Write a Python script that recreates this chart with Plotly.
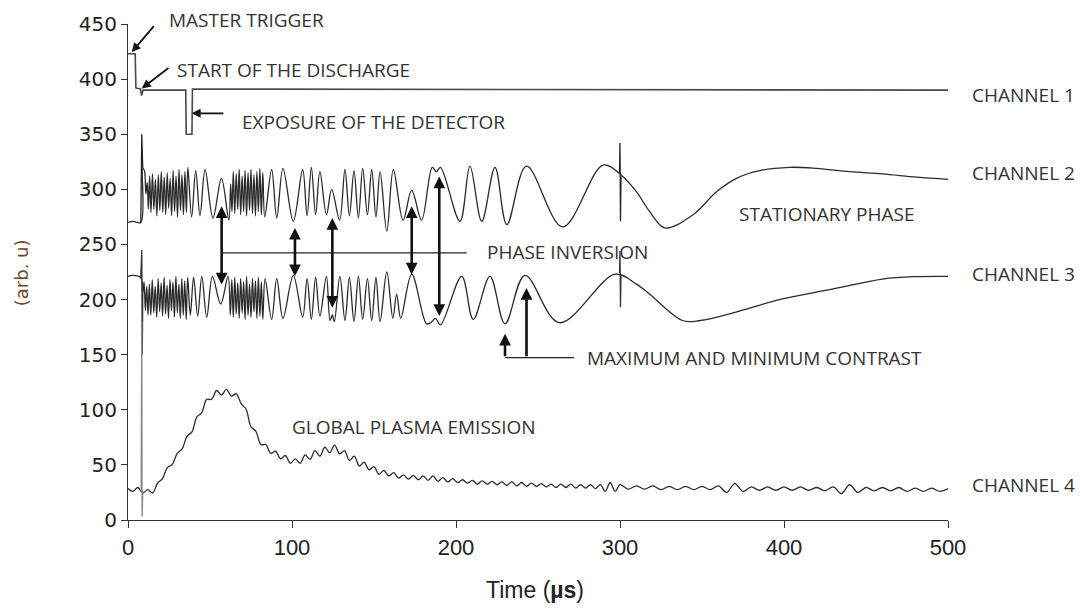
import plotly.graph_objects as go

# ---------------- data ----------------
# Channel 1 : trigger / discharge / detector exposure
ch1_t = [0, 4.4, 4.8, 7.6, 8.3, 9.2, 35.2, 35.5, 39.0, 39.3, 500]
ch1_v = [423, 423, 392, 391, 385, 390, 390, 350, 350, 391, 390]

# Channel 2 : interferometer signal (extrema)
ch2 = [(0, 270), (3, 271), (7.8, 270), (9.0, 319), (10.0, 317), (10.9, 296), (11.7, 306), (12.4, 282),
       (13.2, 312), (14.0, 279), (14.9, 314), (15.8, 282), (16.7, 309), (17.6, 276), (18.5, 313), (19.4, 281),
       (20.3, 316), (21.2, 279), (22.1, 311), (23.0, 277), (23.9, 315), (24.8, 283), (25.7, 310), (26.6, 276),
       (27.5, 317), (28.4, 280), (29.3, 312), (30.2, 275), (31.1, 318), (32.0, 281), (32.9, 313), (33.8, 277),
       (34.7, 316), (35.6, 279), (36.5, 320), (38.8, 275), (41.3, 317), (43.9, 276), (47.0, 318), (51.8, 274),
       (57.0, 310), (61.5, 272), (62.6, 305), (63.4, 280), (64.2, 316), (65.1, 278), (66.0, 314), (66.9, 282),
       (67.8, 318), (68.7, 277), (69.6, 312), (70.5, 280), (71.4, 317), (72.3, 276), (73.2, 315), (74.1, 281),
       (75.0, 318), (75.9, 278), (76.8, 313), (77.7, 276), (78.6, 316), (79.5, 280), (80.4, 319), (81.3, 277),
       (82.2, 315), (83.4, 275), (87.6, 318), (90.7, 274), (94.5, 319), (100.8, 271), (106.5, 318), (109.2, 276),
       (111.8, 320), (114.4, 277), (117.0, 316), (121.0, 277), (124.2, 300), (129.0, 272), (132.3, 318),
       (135.0, 276), (137.8, 317), (140.5, 274), (143.1, 319), (146.0, 277), (148.6, 318), (151.2, 275),
       (153.7, 316), (157.8, 262), (161.8, 318), (167.7, 272), (173.0, 299), (179.0, 272), (185.5, 320),
       (188.0, 316), (190.5, 320), (202.4, 271), (208.5, 321), (215.7, 271), (223.8, 320), (231.0, 268),
       (243.0, 321), (265.0, 266), (289.6, 322), (300.0, 314), (310.0, 298), (318.0, 280), (327.4, 265),
       (344.6, 277), (359.0, 298), (371.0, 310), (385.0, 317), (403.7, 320), (420.0, 319), (440.0, 316),
       (460.0, 314), (481.0, 311), (500.0, 309)]
ch2_t = [p[0] for p in ch2]
ch2_v = [p[1] for p in ch2]

# Channel 3 : second interferometer signal
ch3 = [(0, 221), (3, 222), (7.8, 220), (9.0, 205), (9.8, 216), (10.6, 190), (11.4, 212), (12.2, 186),
       (13.0, 214), (13.9, 186), (14.8, 218), (15.7, 188), (16.6, 212), (17.5, 184), (18.4, 219), (19.3, 189),
       (20.2, 215), (21.1, 185), (22.0, 220), (22.9, 187), (23.8, 213), (24.7, 183), (25.6, 218), (26.5, 190),
       (27.4, 216), (28.3, 184), (29.2, 221), (30.1, 188), (31.0, 214), (31.9, 183), (32.8, 219), (33.7, 186),
       (34.6, 217), (35.5, 182), (36.4, 220), (38.0, 186), (40.0, 220), (42.5, 185), (45.0, 221), (48.0, 184),
       (51.5, 221), (56.5, 196), (61.0, 221), (62.4, 186), (63.3, 218), (64.2, 184), (65.1, 220), (66.0, 187),
       (66.9, 215), (67.8, 183), (68.7, 219), (69.6, 188), (70.5, 216), (71.4, 182), (72.3, 221), (73.2, 186),
       (74.1, 214), (75.0, 184), (75.9, 219), (76.8, 189), (77.7, 217), (78.6, 183), (79.5, 220), (80.4, 185),
       (81.3, 216), (82.2, 182), (83.6, 219), (87.6, 182), (90.7, 219), (94.5, 183), (100.8, 222), (106.5, 184),
       (109.2, 219), (111.8, 182), (114.4, 220), (117.0, 185), (121.0, 221), (123.2, 181), (124.6, 186),
       (125.8, 180), (129.2, 221), (132.3, 181), (135.0, 220), (137.8, 180), (140.5, 221), (143.1, 182),
       (146.0, 219), (148.6, 181), (151.2, 220), (153.7, 180), (157.8, 225), (161.5, 183), (163.8, 205),
       (166.3, 183), (173.0, 223), (182.0, 178), (184.5, 179), (187.5, 183), (190.5, 177), (203.5, 221),
       (210.5, 182), (220.7, 221), (229.9, 178), (242.0, 222), (263.0, 179), (297.0, 223), (310.0, 214),
       (318.0, 205), (338.0, 181), (349.0, 181), (369.0, 188), (399.0, 200.6), (430.0, 209.6), (460.0, 218.6),
       (481.0, 220.8), (500.0, 221)]
ch3_t = [p[0] for p in ch3]
ch3_v = [p[1] for p in ch3]

# Channel 4 : global plasma emission
ch4 = [(0, 28.5), (3, 26), (6, 29.5), (9, 24.5), (12, 27.5), (15, 24.5), (18, 33.5), (21, 37.5), (24, 47.5),
       (27, 50.5), (30, 60.5), (33, 64.5), (36, 76), (39, 80), (42, 93.5), (45, 97.5), (48, 109.5), (51, 109.5),
       (54, 117.5), (57, 113.5), (60, 118.5), (63, 112.5), (66, 114.5), (69, 105.5), (72, 100.5), (75, 84.5),
       (78, 80.5), (81, 68.5), (84, 68.5), (87, 60.5), (90, 62.5), (93, 55.5), (96, 58.5), (99, 51.5),
       (102, 55.5), (105, 51.5), (108, 59), (111, 55), (114, 63), (117, 58), (120, 66), (123, 61), (126, 68),
       (129, 60), (132, 63), (135, 54), (138, 58), (141, 49), (144, 52.5), (147, 45.5), (150, 48.5),
       (153, 41.5), (156, 45), (159, 40), (162, 43), (165, 38), (168, 41), (171, 37), (174, 40.5), (177, 36.5),
       (180, 40), (183, 36), (186, 40), (189, 35), (192, 38.5), (195, 34.5), (198, 37.5), (201, 34),
       (204, 36.5), (207, 33.5), (210, 36), (213, 32.5), (216, 35.5), (219, 32.5), (222, 35), (225, 32),
       (228, 34.5), (231, 31.5), (234, 34.5), (237, 31), (240, 34), (243, 30.5), (246, 33.5), (249, 30.5),
       (252, 33), (255, 30), (258, 32.5), (261, 29.5), (264, 32.5), (267, 29.5), (270, 32.5), (273, 29),
       (276, 32), (279, 29), (282, 32), (285, 28.5), (288, 32), (291, 26), (294, 34), (297, 26), (300, 32),
       (305, 28), (310, 31), (315, 28), (320, 31), (325, 27.5), (330, 30.5), (335, 27.5), (340, 30.5),
       (345, 27.5), (350, 30.5), (355, 27.5), (360, 31), (365, 25), (370, 33), (375, 26), (380, 30),
       (385, 27), (390, 30), (395, 27), (400, 30), (405, 27), (410, 30), (415, 27), (420, 29.5), (425, 26.5),
       (430, 30), (435, 24), (440, 32), (445, 25), (450, 29.5), (455, 26.5), (460, 29.5), (465, 26.5),
       (470, 29.5), (475, 26), (480, 29), (485, 26), (490, 29), (495, 26), (500, 28.5)]
ch4_t = [p[0] for p in ch4]
ch4_v = [p[1] for p in ch4]

# short glitches (discharge start and t = 300 us)
g2a_t, g2a_v = [7.8, 8.4, 9.0], [270, 350, 319]
g3a_t, g3a_v = [7.8, 8.4, 8.7, 9.0], [220, 245, 150, 205]
g4a_t, g4a_v = [8.0, 8.4, 8.6, 9.0], [26, 180, 3, 26]
g2b_t, g2b_v = [299.7, 300.0, 300.3, 300.6], [314, 342, 271, 312]
g3b_t, g3b_v = [299.7, 300.0, 300.3, 300.6], [224, 244, 193, 222]

channel_labels = ["CHANNEL 1", "CHANNEL 2", "CHANNEL 3", "CHANNEL 4"]
channel_label_y = [386, 315, 223, 32]

x_ticks = [0, 100, 200, 300, 400, 500]
y_ticks = [0, 50, 100, 150, 200, 250, 300, 350, 400, 450]

# ---------------- figure ----------------
LINE = "#2b2b2b"
fig = go.Figure()


def add_line(t, v, color=LINE, width=1.3, shape="spline"):
    fig.add_trace(go.Scatter(x=t, y=v, mode="lines",
                             line=dict(color=color, width=width, shape=shape,
                                       smoothing=1.0 if shape == "spline" else None),
                             showlegend=False, hoverinfo="skip"))


add_line(ch1_t, ch1_v, color="#4a4a4a", width=1.6, shape="linear")
add_line(ch2_t, ch2_v)
add_line(ch3_t, ch3_v)
add_line(ch4_t, ch4_v)
for gt, gv, col in [(g2a_t, g2a_v, "#222"), (g3a_t, g3a_v, "#333"), (g4a_t, g4a_v, "#888"),
                    (g2b_t, g2b_v, "#222"), (g3b_t, g3b_v, "#333")]:
    add_line(gt, gv, color=col, width=1.3, shape="linear")

TXT = dict(family="Open Sans, Lato, DejaVu Sans, sans-serif", size=19, color="#333333")
ann = []


def text(x, y, s, xref="x", yref="y"):
    ann.append(dict(x=x, y=y, xref=xref, yref=yref, text=s, showarrow=False,
                    xanchor="left", yanchor="middle", font=TXT))


def arrow(x, y, ax, ay, width=2.0, both=False, size=1.0):
    d = dict(x=x, y=y, ax=ax, ay=ay, xref="x", yref="y", axref="x", ayref="y",
             text="", showarrow=True, arrowhead=2, arrowsize=size, arrowwidth=width,
             arrowcolor="#111111", standoff=0, startstandoff=0)
    if both:
        d.update(arrowside="end+start", startarrowhead=2, startarrowsize=size)
    ann.append(d)


# top-left annotations (MASTER TRIGGER sits above the axis range -> paper y)
text(0.047, 1.008, "MASTER TRIGGER", xref="paper", yref="paper")
arrow(2.3, 424.5, 16.5, 449.5, width=1.8)
text(28.7, 408.4, "START OF THE DISCHARGE")
arrow(8.4, 391.5, 25.6, 411.1, width=1.8)
text(68.3, 361.4, "EXPOSURE OF THE DETECTOR")
arrow(38.8, 369.0, 59.1, 369.0, width=1.8)

# phase inversion
text(217.7, 243.0, "PHASE INVERSION")
for xa, top, bot in [(57.1, 284.6, 212.3), (101.8, 265.0, 219.8), (124.6, 274.0, 191.3),
                     (173.0, 284.6, 221.4), (189.8, 311.7, 183.7)]:
    arrow(xa, top, xa, bot, width=2.6, both=True, size=0.9)

# contrast
text(278.7, 147.3, "MAXIMUM AND MINIMUM CONTRAST")
arrow(229.9, 169.0, 229.9, 147.3, width=2.6, size=0.9)
arrow(243.0, 210.5, 243.0, 147.3, width=2.6, size=0.9)

text(371.3, 277.4, "STATIONARY PHASE")
text(98.8, 84.0, "GLOBAL PLASMA EMISSION")

for lab, yy in zip(channel_labels, channel_label_y):
    ann.append(dict(x=1.0268, y=yy, xref="paper", yref="y", text=lab, showarrow=False,
                    xanchor="left", yanchor="middle", font=TXT))

# axis titles
ann.append(dict(x=0.496, y=-0.142, xref="paper", yref="paper", text="Time (<b>µs</b>)",
                showarrow=False, xanchor="center", yanchor="middle",
                font=dict(family="Liberation Sans Narrow, Arial Narrow, Liberation Sans, sans-serif",
                          size=23, color="#222222")))
ann.append(dict(x=-0.129, y=0.498, xref="paper", yref="paper", text="(arb. u)", textangle=-90,
                showarrow=False, xanchor="center", yanchor="middle",
                font=dict(family="DejaVu Sans, sans-serif", size=18, color="#6e4a2e")))

shapes = [
    dict(type="line", xref="x", yref="y", x0=57.1, x1=206.5, y0=242.4, y1=242.4,
         line=dict(color="#222222", width=1.2)),
    dict(type="line", xref="x", yref="y", x0=229.9, x1=272.0, y0=147.3, y1=147.3,
         line=dict(color="#222222", width=1.2)),
]

fig.update_layout(
    width=1080, height=611,
    margin=dict(l=128, r=132, t=22, b=91),
    paper_bgcolor="white", plot_bgcolor="white",
    annotations=ann, shapes=shapes,
    xaxis=dict(range=[0, 500], tickvals=x_ticks, showgrid=False, zeroline=False,
               showline=True, linecolor="#333333", linewidth=1.2,
               ticks="outside", ticklen=7, tickcolor="#333333", tickwidth=1.2,
               tickfont=dict(family="Liberation Sans Narrow, Arial Narrow, Liberation Sans, sans-serif",
                             size=22, color="#222222")),
    yaxis=dict(range=[0, 450], tickvals=y_ticks, showgrid=False, zeroline=False,
               showline=True, linecolor="#333333", linewidth=1.2,
               ticks="outside", ticklen=6, tickcolor="#333333", tickwidth=1.2,
               tickfont=dict(family="DejaVu Sans, Liberation Sans, sans-serif", size=20, color="#222222")),
)

fig.write_html("out.html")
